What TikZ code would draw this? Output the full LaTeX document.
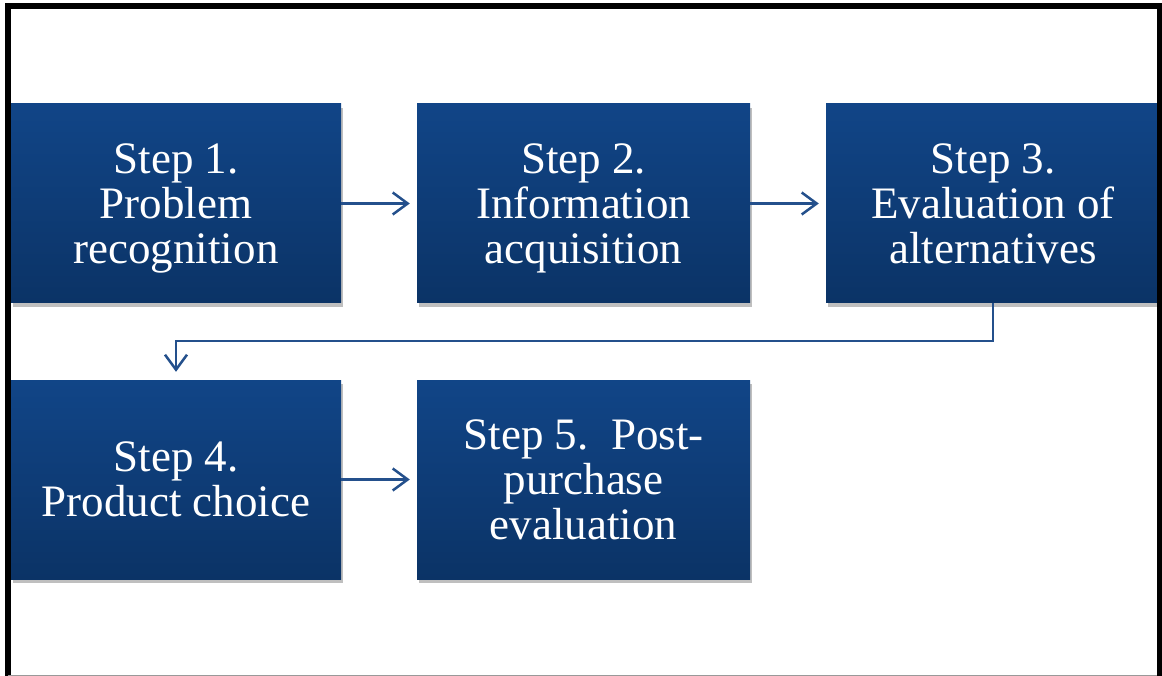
\documentclass[tikz,border=0pt]{standalone}
\usepackage{fontspec}
\setmainfont{Liberation Serif}
\usetikzlibrary{arrows.meta,shadows}
\definecolor{boxtop}{HTML}{114587}
\definecolor{boxbot}{HTML}{0B3366}
\definecolor{arr}{HTML}{24508C}
\newcommand{\nodepth}[1]{\raisebox{0pt}[\height][0pt]{#1}}
\tikzset{
  stepbox/.style={rectangle, minimum height=199pt, inner sep=0pt,
    top color=boxtop, bottom color=boxbot, draw=none,
    text=white, align=center, font=\fontsize{45}{45}\selectfont,
    drop shadow={shadow xshift=1.5pt, shadow yshift=-4pt, opacity=0.25, fill=black}},
  conn/.style={draw=arr, line width=2.5pt,
    -{Straight Barb[length=15pt, width=22pt, line width=2.5pt]}},
}
\begin{document}
\begin{tikzpicture}[x=1pt,y=-1pt]
\useasboundingbox (0,0) rectangle (1162,676);
\fill[white] (0,0) rectangle (1162,676);
\node[stepbox, minimum width=330pt] (b1) at (176,203.5) {Step 1.\\Problem\\\nodepth{recognition}};
\node[stepbox, minimum width=333pt] (b2) at (583.5,203.5) {Step 2.\\Information\\\nodepth{acquisition}};
\node[stepbox, minimum width=334pt] (b3) at (993,203.5) {Step 3.\\Evaluation of\\alternatives};
\node[stepbox, minimum width=330pt] (b4) at (176,479.5) {Step 4.\\Product choice};
\node[stepbox, minimum width=333pt] (b5) at (583.5,479.5) {Step 5.\ \ Post-\\purchase\\evaluation};
\draw[conn, shorten >=7pt] (b1.east) -- (b2.west);
\draw[conn, shorten >=7pt] (b2.east) -- (b3.west);
\draw[conn, shorten >=7pt] (b4.east) -- (b5.west);
\draw[conn, shorten >=8pt] (b3.south) -- ++(0,38) -| (b4.north);
% frame
\draw[black, line width=6pt] (8,676) -- (8,6) -- (1159.5,6) -- (1159.5,676);
\draw[black!40, line width=1.2pt] (8,675.4) -- (1157,675.4);
\end{tikzpicture}
\end{document}
